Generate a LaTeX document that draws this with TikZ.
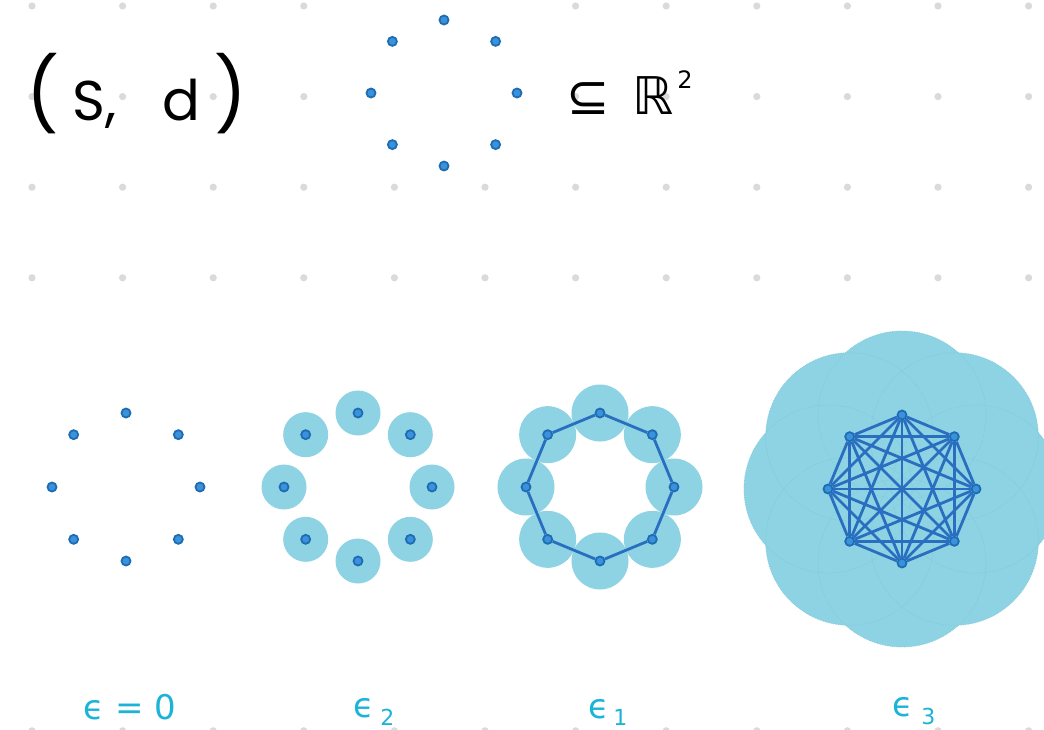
\documentclass[tikz,border=0pt]{standalone}
\usepackage{fontspec}
\setmainfont{Poppins}
\newfontfamily\symfont{DejaVu Sans}
\usetikzlibrary{positioning}
\definecolor{gridgray}{HTML}{DADADA}
\definecolor{ptblue}{HTML}{3A92DA}
\definecolor{ptdark}{HTML}{1E6CB4}
\definecolor{ballcyan}{HTML}{8DD3E3}
\definecolor{ballline}{HTML}{7FC8DA}
\definecolor{edgeblue}{HTML}{2A6EC0}
\definecolor{epscyan}{HTML}{1BB4D8}

\begin{document}
\begin{tikzpicture}[
    x=1pt, y=-1pt,
    griddot/.style={fill=gridgray},
    point/.style={circle, inner sep=0pt, minimum size=9pt, fill=ptblue, draw=ptdark, line width=1.8pt},
    ball/.style={fill=ballcyan},
    ballrim/.style={draw=ballline, line width=0.7pt, densely dotted},
    link/.style={draw=edgeblue, line width=2.8pt},
    hand/.style={inner sep=0pt, font=\fontsize{56}{56}\selectfont},
    epslabel/.style={inner sep=0pt, text=epscyan, font=\symfont\fontsize{34}{34}\selectfont}
]
\useasboundingbox (0,0) rectangle (1044,730);
\fill[white] (0,0) rectangle (1044,730);

\foreach \r in {0,1,2,3,8}
  \foreach \c in {0,...,11} {
    \pgfmathtruncatemacro\hide{(\r<2)*(\c>3)*(\c<6)}
    \ifnum\hide=0 \fill[griddot] ({32+90.6*\c},{6+90.6*\r}) circle (3.6); \fi
  }

\foreach \i in {1,...,8}
  \node[point] (s\i) at ({444+73*cos(45*\i)},{93+73*sin(45*\i)}) {};

\node[hand, anchor=west] (sd) at (26,94) {{\fontsize{72}{72}\selectfont(}\hspace{14pt}S,\hspace{46pt}d\hspace{14pt}{\fontsize{72}{72}\selectfont)}};
\node[hand, font=\symfont\fontsize{52}{52}\selectfont, anchor=west, right=44pt of s8] (inR) {⊆\hspace{22pt}ℝ\hspace{4pt}\raisebox{26pt}{\fontsize{24}{24}\selectfont 2}};

\foreach \i in {1,...,8}
  \node[point] (a\i) at ({126+74*cos(45*\i)},{487+74*sin(45*\i)}) {};

\foreach \i in {1,...,8}
  \fill[ball] ({358+74*cos(45*\i)},{487+74*sin(45*\i)}) circle (22.5);
\foreach \i in {1,...,8}
  \node[point] (b\i) at ({358+74*cos(45*\i)},{487+74*sin(45*\i)}) {};

\foreach \i in {1,...,8}
  \fill[ball] ({600+74*cos(45*\i)},{487+74*sin(45*\i)}) circle (28.5);
\foreach \i in {1,...,8}
  \node[point] (c\i) at ({600+74*cos(45*\i)},{487+74*sin(45*\i)}) {};
\foreach \i [remember=\i as \j (initially 8)] in {1,...,8}
  \draw[link] (c\j) -- (c\i);

\foreach \i in {1,...,8}
  \fill[ball] ({902+74*cos(45*\i)},{489+74*sin(45*\i)}) circle (84);
\foreach \i in {1,...,8}
  \draw[ballrim] ({902+74*cos(45*\i)},{489+74*sin(45*\i)}) circle (84);
\foreach \i in {1,...,8}
  \node[point] (d\i) at ({902+74*cos(45*\i)},{489+74*sin(45*\i)}) {};
\foreach \i in {1,...,7} {
  \pgfmathtruncatemacro\k{\i+1}
  \foreach \j in {\k,...,8}
    \draw[link] (d\i) -- (d\j);
}

\node[epslabel] (eps0) at (130,707) {ϵ = 0};
\node[epslabel] (eps2) at (374,712) {ϵ\hspace{6pt}\raisebox{-8pt}{\fontsize{22}{22}\selectfont 2}};
\node[epslabel] (eps1) at (608,712) {ϵ\hspace{4pt}\raisebox{-7pt}{\fontsize{22}{22}\selectfont 1}};
\node[epslabel] (eps3) at (914,711) {ϵ\hspace{8pt}\raisebox{-8pt}{\fontsize{22}{22}\selectfont 3}};
\end{tikzpicture}
\end{document}
